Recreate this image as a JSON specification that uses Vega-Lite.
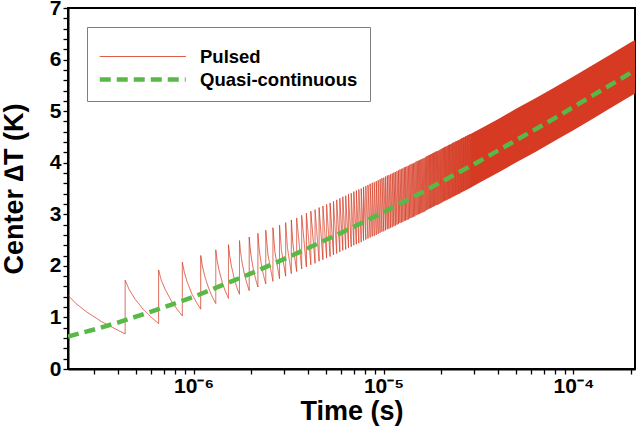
{
"$schema": "https://vega.github.io/schema/vega-lite/v6.json",
"width": 567,
"height": 361,
"autosize": {"type": "none"},
"padding": {"left": 68, "top": 8, "right": 5, "bottom": 59},
"background": "white",
"config": {
  "view": {"stroke": "black", "strokeWidth": 2},
  "font": "Liberation Sans",
  "axis": {"grid": false, "domainColor": "black", "domainWidth": 2, "tickColor": "black", "tickWidth": 1.3, "labelColor": "black", "titleColor": "black", "labelFont": "Liberation Sans", "titleFont": "Liberation Sans", "labelFontWeight": "bold", "titleFontWeight": "bold", "labelOverlap": false, "labelFlush": false, "zindex": 1}
},
"encoding": {
  "x": {"field": "t", "type": "quantitative",
    "scale": {"type": "log", "domain": [2.18e-7, 2.11e-4], "nice": false},
    "axis": {"title": "Time (s)", "titleFontSize": 27, "titleX": 283.5, "titleY": 50, "titleBaseline": "alphabetic", "titleAlign": "center",
      "values": [3e-7,4e-7,5e-7,6e-7,7e-7,8e-7,9e-7,1e-6,2e-6,3e-6,4e-6,5e-6,6e-6,7e-6,8e-6,9e-6,1e-5,2e-5,3e-5,4e-5,5e-5,6e-5,7e-5,8e-5,9e-5,1e-4,2e-4],
      "ticks": true, "tickSize": 5, "labelPadding": 1, "labelFontSize": 21,
      "encode": {"ticks": {"update": {"y2": {"signal": "(datum.value == 1e-6 || datum.value == 1e-5 || datum.value == 1e-4) ? -9 : -5"}}}},
      "labelExpr": "datum.value == 1e-6 ? '10⁻⁶' : datum.value == 1e-5 ? '10⁻⁵' : datum.value == 1e-4 ? '10⁻⁴' : ''"}
  },
  "y": {"field": "v", "type": "quantitative", "scale": {"domain": [0, 7], "nice": false},
    "axis": {"title": "Center ∆T (K)", "titleFontSize": 27, "titleX": -46, "titleY": 180.5, "titleBaseline": "alphabetic", "titleAlign": "center", "titleAngle": 270,
      "values": [0,0.2,0.4,0.6,0.8,1,1.2,1.4,1.6,1.8,2,2.2,2.4,2.6,2.8,3,3.2,3.4,3.6,3.8,4,4.2,4.4,4.6,4.8,5,5.2,5.4,5.6,5.8,6,6.2,6.4,6.6,6.8,7],
      "ticks": true, "tickSize": 5, "labelPadding": 2, "labelFontSize": 21,
      "encode": {"ticks": {"update": {"x2": {"signal": "abs(datum.value - round(datum.value)) < 0.01 ? 7 : 4"}}},
                 "labels": {"update": {"dy": {"signal": "datum.value == 7 ? 3 : 0"}}}},
      "labelExpr": "abs(datum.value - round(datum.value)) < 0.01 ? format(datum.value, 'd') : ''"}
  }
},
"layer": [
  {
    "data": {"values": [
      {"t": 2.8558e-5, "v": 3.51, "hi": 4.55},
      {"t": 3.162e-5, "v": 3.60, "hi": 4.64},
      {"t": 3.981e-5, "v": 3.80, "hi": 4.84},
      {"t": 5.012e-5, "v": 4.01, "hi": 5.05},
      {"t": 6.31e-5, "v": 4.21, "hi": 5.25},
      {"t": 7.943e-5, "v": 4.42, "hi": 5.46},
      {"t": 1e-4, "v": 4.63, "hi": 5.67},
      {"t": 1.259e-4, "v": 4.85, "hi": 5.89},
      {"t": 1.585e-4, "v": 5.07, "hi": 6.11},
      {"t": 1.995e-4, "v": 5.29, "hi": 6.33},
      {"t": 2.11e-4, "v": 5.34, "hi": 6.38}
    ]},
    "mark": {"type": "area", "color": "#d63a22", "clip": true},
    "encoding": {
      "y2": {"field": "hi"}
    }
  },
  {
    "data": {"values": [
      {"t": 2.18e-7, "b": 1.43},
      {"t": 2.398e-7, "b": 1.27}, {"t": 2.725e-7, "b": 1.11}, {"t": 3.27e-7, "b": 0.92}, {"t": 3.815e-7, "b": 0.79},
      {"t": 4.36e-7, "a": 0.68, "b": 1.72},
      {"t": 4.578e-7, "b": 1.54}, {"t": 4.905e-7, "b": 1.36}, {"t": 5.45e-7, "b": 1.15}, {"t": 5.995e-7, "b": 1.00},
      {"t": 6.54e-7, "a": 0.88, "b": 1.92},
      {"t": 6.758e-7, "b": 1.72}, {"t": 7.085e-7, "b": 1.54}, {"t": 7.63e-7, "b": 1.32}, {"t": 8.175e-7, "b": 1.16},
      {"t": 8.72e-7, "a": 1.03, "b": 2.07},
      {"t": 8.938e-7, "b": 1.87}, {"t": 9.265e-7, "b": 1.68}, {"t": 9.81e-7, "b": 1.45}, {"t": 1.0355e-6, "b": 1.29},
      {"t": 1.09e-6, "a": 1.16, "b": 2.20},
      {"t": 1.1118e-6, "b": 2.00}, {"t": 1.1445e-6, "b": 1.80}, {"t": 1.199e-6, "b": 1.57}, {"t": 1.2535e-6, "b": 1.40},
      {"t": 1.308e-6, "a": 1.27, "b": 2.31},
      {"t": 1.3298e-6, "b": 2.10}, {"t": 1.3625e-6, "b": 1.91}, {"t": 1.417e-6, "b": 1.67}, {"t": 1.4715e-6, "b": 1.50},
      {"t": 1.526e-6, "a": 1.37, "b": 2.41},
      {"t": 1.5478e-6, "b": 2.20}, {"t": 1.5805e-6, "b": 2.00}, {"t": 1.635e-6, "b": 1.76}, {"t": 1.6895e-6, "b": 1.58},
      {"t": 1.744e-6, "a": 1.45, "b": 2.49},
      {"t": 1.7658e-6, "b": 2.28}, {"t": 1.7985e-6, "b": 2.07}, {"t": 1.853e-6, "b": 1.83}, {"t": 1.9075e-6, "b": 1.66},
      {"t": 1.962e-6, "a": 1.52, "b": 2.56},
      {"t": 1.9838e-6, "b": 2.35}, {"t": 2.0165e-6, "b": 2.14}, {"t": 2.071e-6, "b": 1.90}, {"t": 2.1255e-6, "b": 1.73},
      {"t": 2.18e-6, "a": 1.59, "b": 2.63},
      {"t": 2.2018e-6, "b": 2.41}, {"t": 2.2345e-6, "b": 2.21}, {"t": 2.289e-6, "b": 1.96}, {"t": 2.3435e-6, "b": 1.79},
      {"t": 2.398e-6, "a": 1.65, "b": 2.69}, {"t": 2.4634e-6, "b": 2.21},
      {"t": 2.616e-6, "a": 1.70, "b": 2.74}, {"t": 2.6814e-6, "b": 2.26},
      {"t": 2.834e-6, "a": 1.75, "b": 2.79}, {"t": 2.8994e-6, "b": 2.31},
      {"t": 3.052e-6, "a": 1.80, "b": 2.84}, {"t": 3.1174e-6, "b": 2.36},
      {"t": 3.27e-6, "a": 1.85, "b": 2.89}, {"t": 3.3354e-6, "b": 2.41},
      {"t": 3.488e-6, "a": 1.89, "b": 2.93},
      {"t": 3.706e-6, "a": 1.94, "b": 2.98},
      {"t": 3.924e-6, "a": 1.98, "b": 3.02},
      {"t": 4.142e-6, "a": 2.02, "b": 3.06},
      {"t": 4.36e-6, "a": 2.05, "b": 3.09},
      {"t": 4.578e-6, "a": 2.09, "b": 3.13},
      {"t": 4.796e-6, "a": 2.12, "b": 3.16},
      {"t": 5.014e-6, "a": 2.15, "b": 3.19},
      {"t": 5.232e-6, "a": 2.18, "b": 3.22},
      {"t": 5.45e-6, "a": 2.21, "b": 3.25},
      {"t": 5.668e-6, "a": 2.24, "b": 3.28},
      {"t": 5.886e-6, "a": 2.27, "b": 3.31},
      {"t": 6.104e-6, "a": 2.30, "b": 3.34},
      {"t": 6.322e-6, "a": 2.32, "b": 3.36},
      {"t": 6.54e-6, "a": 2.35, "b": 3.39},
      {"t": 6.758e-6, "a": 2.37, "b": 3.41},
      {"t": 6.976e-6, "a": 2.40, "b": 3.44},
      {"t": 7.194e-6, "a": 2.42, "b": 3.46},
      {"t": 7.412e-6, "a": 2.44, "b": 3.48},
      {"t": 7.63e-6, "a": 2.46, "b": 3.50},
      {"t": 7.848e-6, "a": 2.49, "b": 3.53},
      {"t": 8.066e-6, "a": 2.51, "b": 3.55},
      {"t": 8.284e-6, "a": 2.53, "b": 3.57},
      {"t": 8.502e-6, "a": 2.55, "b": 3.59},
      {"t": 8.72e-6, "a": 2.57, "b": 3.61},
      {"t": 8.938e-6, "a": 2.58, "b": 3.62},
      {"t": 9.156e-6, "a": 2.60, "b": 3.64},
      {"t": 9.374e-6, "a": 2.62, "b": 3.66},
      {"t": 9.592e-6, "a": 2.64, "b": 3.68},
      {"t": 9.81e-6, "a": 2.66, "b": 3.70},
      {"t": 1.0028e-5, "a": 2.67, "b": 3.71},
      {"t": 1.0246e-5, "a": 2.69, "b": 3.73},
      {"t": 1.0464e-5, "a": 2.71, "b": 3.75},
      {"t": 1.0682e-5, "a": 2.72, "b": 3.76},
      {"t": 1.09e-5, "a": 2.74, "b": 3.78},
      {"t": 1.1118e-5, "a": 2.75, "b": 3.79},
      {"t": 1.1336e-5, "a": 2.77, "b": 3.81},
      {"t": 1.1554e-5, "a": 2.78, "b": 3.82},
      {"t": 1.1772e-5, "a": 2.80, "b": 3.84},
      {"t": 1.199e-5, "a": 2.81, "b": 3.85},
      {"t": 1.2208e-5, "a": 2.83, "b": 3.87},
      {"t": 1.2426e-5, "a": 2.84, "b": 3.88},
      {"t": 1.2644e-5, "a": 2.85, "b": 3.89},
      {"t": 1.2862e-5, "a": 2.87, "b": 3.91},
      {"t": 1.308e-5, "a": 2.88, "b": 3.92},
      {"t": 1.3298e-5, "a": 2.89, "b": 3.93},
      {"t": 1.3516e-5, "a": 2.90, "b": 3.94},
      {"t": 1.3734e-5, "a": 2.92, "b": 3.96},
      {"t": 1.3952e-5, "a": 2.93, "b": 3.97},
      {"t": 1.417e-5, "a": 2.94, "b": 3.98},
      {"t": 1.4388e-5, "a": 2.95, "b": 3.99},
      {"t": 1.4606e-5, "a": 2.96, "b": 4.00},
      {"t": 1.4824e-5, "a": 2.98, "b": 4.02},
      {"t": 1.5042e-5, "a": 2.99, "b": 4.03},
      {"t": 1.526e-5, "a": 3.00, "b": 4.04},
      {"t": 1.5478e-5, "a": 3.01, "b": 4.05},
      {"t": 1.5696e-5, "a": 3.02, "b": 4.06},
      {"t": 1.5914e-5, "a": 3.03, "b": 4.07},
      {"t": 1.6132e-5, "a": 3.04, "b": 4.08},
      {"t": 1.635e-5, "a": 3.05, "b": 4.09},
      {"t": 1.6568e-5, "a": 3.06, "b": 4.10},
      {"t": 1.6786e-5, "a": 3.08, "b": 4.12},
      {"t": 1.7004e-5, "a": 3.09, "b": 4.13},
      {"t": 1.7222e-5, "a": 3.10, "b": 4.14},
      {"t": 1.744e-5, "a": 3.11, "b": 4.15},
      {"t": 1.7658e-5, "a": 3.12, "b": 4.16},
      {"t": 1.7876e-5, "a": 3.13, "b": 4.17},
      {"t": 1.8094e-5, "a": 3.14, "b": 4.18},
      {"t": 1.8312e-5, "a": 3.15, "b": 4.19},
      {"t": 1.853e-5, "a": 3.16, "b": 4.20},
      {"t": 1.8748e-5, "a": 3.17, "b": 4.21},
      {"t": 1.8966e-5, "a": 3.18, "b": 4.22},
      {"t": 1.9184e-5, "a": 3.18, "b": 4.22},
      {"t": 1.9402e-5, "a": 3.19, "b": 4.23},
      {"t": 1.962e-5, "a": 3.20, "b": 4.24},
      {"t": 1.9838e-5, "a": 3.21, "b": 4.25},
      {"t": 2.0056e-5, "a": 3.22, "b": 4.26},
      {"t": 2.0274e-5, "a": 3.23, "b": 4.27},
      {"t": 2.0492e-5, "a": 3.24, "b": 4.28},
      {"t": 2.071e-5, "a": 3.25, "b": 4.29},
      {"t": 2.0928e-5, "a": 3.26, "b": 4.30},
      {"t": 2.1146e-5, "a": 3.27, "b": 4.31},
      {"t": 2.1364e-5, "a": 3.27, "b": 4.31},
      {"t": 2.1582e-5, "a": 3.28, "b": 4.32},
      {"t": 2.18e-5, "a": 3.29, "b": 4.33},
      {"t": 2.2018e-5, "a": 3.30, "b": 4.34},
      {"t": 2.2236e-5, "a": 3.31, "b": 4.35},
      {"t": 2.2454e-5, "a": 3.31, "b": 4.35},
      {"t": 2.2672e-5, "a": 3.32, "b": 4.36},
      {"t": 2.289e-5, "a": 3.33, "b": 4.37},
      {"t": 2.3108e-5, "a": 3.34, "b": 4.38},
      {"t": 2.3326e-5, "a": 3.35, "b": 4.39},
      {"t": 2.3544e-5, "a": 3.35, "b": 4.39},
      {"t": 2.3762e-5, "a": 3.36, "b": 4.40},
      {"t": 2.398e-5, "a": 3.37, "b": 4.41},
      {"t": 2.4198e-5, "a": 3.38, "b": 4.42},
      {"t": 2.4416e-5, "a": 3.38, "b": 4.42},
      {"t": 2.4634e-5, "a": 3.39, "b": 4.43},
      {"t": 2.4852e-5, "a": 3.40, "b": 4.44},
      {"t": 2.507e-5, "a": 3.40, "b": 4.44},
      {"t": 2.5288e-5, "a": 3.41, "b": 4.45},
      {"t": 2.5506e-5, "a": 3.42, "b": 4.46},
      {"t": 2.5724e-5, "a": 3.43, "b": 4.47},
      {"t": 2.5942e-5, "a": 3.43, "b": 4.47},
      {"t": 2.616e-5, "a": 3.44, "b": 4.48},
      {"t": 2.6378e-5, "a": 3.45, "b": 4.49},
      {"t": 2.6596e-5, "a": 3.45, "b": 4.49},
      {"t": 2.6814e-5, "a": 3.46, "b": 4.50},
      {"t": 2.7032e-5, "a": 3.47, "b": 4.51},
      {"t": 2.725e-5, "a": 3.47, "b": 4.51},
      {"t": 2.7468e-5, "a": 3.48, "b": 4.52},
      {"t": 2.7686e-5, "a": 3.49, "b": 4.53},
      {"t": 2.7904e-5, "a": 3.49, "b": 4.53},
      {"t": 2.8122e-5, "a": 3.50, "b": 4.54},
      {"t": 2.834e-5, "a": 3.51, "b": 4.55},
      {"t": 2.8558e-5, "a": 3.51, "b": 4.55}
    ]},
    "transform": [
      {"fold": ["a", "b"], "as": ["k", "v"]},
      {"filter": "isValid(datum.v)"}
    ],
    "mark": {"type": "line", "strokeWidth": 0.8, "clip": true},
    "encoding": {
      "order": {"value": null},
      "color": {"datum": "Pulsed", "type": "nominal",
        "scale": {"domain": ["Pulsed", "Quasi-continuous"], "range": ["#d63a22", "#58b947"]},
        "legend": {"title": " ", "titleFontSize": 8, "titlePadding": 0, "orient": "none", "legendX": 19, "legendY": 19, "padding": 12, "strokeColor": "#7f7f7f", "fillColor": "white", "symbolType": "stroke", "symbolSize": 7396, "clipHeight": 19, "rowPadding": 4, "symbolOffset": 34.5, "labelFontSize": 18.5, "labelFontWeight": "bold", "labelFont": "Liberation Sans", "labelColor": "black", "labelOffset": 48, "labelLimit": 300,
          "encode": {"symbols": {"update": {"strokeWidth": {"signal": "datum.value === 'Pulsed' ? 1 : 4.5"}}}}}},
      "strokeDash": {"datum": "Pulsed", "type": "nominal",
        "scale": {"domain": ["Pulsed", "Quasi-continuous"], "range": [[1, 0], [11, 6]]},
        "legend": {"title": " ", "titleFontSize": 8, "titlePadding": 0, "orient": "none", "legendX": 19, "legendY": 19, "padding": 12, "strokeColor": "#7f7f7f", "fillColor": "white", "symbolType": "stroke", "symbolSize": 7396, "clipHeight": 19, "rowPadding": 4, "symbolOffset": 34.5, "labelFontSize": 18.5, "labelFontWeight": "bold", "labelFont": "Liberation Sans", "labelColor": "black", "labelOffset": 48, "labelLimit": 300,
          "encode": {"symbols": {"update": {"strokeWidth": {"signal": "datum.value === 'Pulsed' ? 1 : 4.5"}}}}}}
    }
  },
  {
    "data": {"values": [
      {"t": 2.18e-7, "v": 0.63},
      {"t": 2.512e-7, "v": 0.69},
      {"t": 3.162e-7, "v": 0.79},
      {"t": 3.981e-7, "v": 0.90},
      {"t": 5.012e-7, "v": 1.02},
      {"t": 6.31e-7, "v": 1.14},
      {"t": 7.943e-7, "v": 1.27},
      {"t": 1e-6, "v": 1.40},
      {"t": 1.259e-6, "v": 1.55},
      {"t": 1.585e-6, "v": 1.70},
      {"t": 1.995e-6, "v": 1.85},
      {"t": 2.512e-6, "v": 2.01},
      {"t": 3.162e-6, "v": 2.17},
      {"t": 3.981e-6, "v": 2.34},
      {"t": 5.012e-6, "v": 2.51},
      {"t": 6.31e-6, "v": 2.68},
      {"t": 7.943e-6, "v": 2.86},
      {"t": 1e-5, "v": 3.04},
      {"t": 1.259e-5, "v": 3.23},
      {"t": 1.585e-5, "v": 3.42},
      {"t": 1.995e-5, "v": 3.62},
      {"t": 2.512e-5, "v": 3.82},
      {"t": 3.162e-5, "v": 4.02},
      {"t": 3.981e-5, "v": 4.23},
      {"t": 5.012e-5, "v": 4.44},
      {"t": 6.31e-5, "v": 4.65},
      {"t": 7.943e-5, "v": 4.86},
      {"t": 1e-4, "v": 5.08},
      {"t": 1.259e-4, "v": 5.30},
      {"t": 1.585e-4, "v": 5.52},
      {"t": 1.995e-4, "v": 5.74},
      {"t": 2.11e-4, "v": 5.79}
    ]},
    "mark": {"type": "line", "strokeWidth": 4.5, "clip": true},
    "encoding": {
      "color": {"datum": "Quasi-continuous", "type": "nominal"},
      "strokeDash": {"datum": "Quasi-continuous", "type": "nominal"}
    }
  }
]
}
